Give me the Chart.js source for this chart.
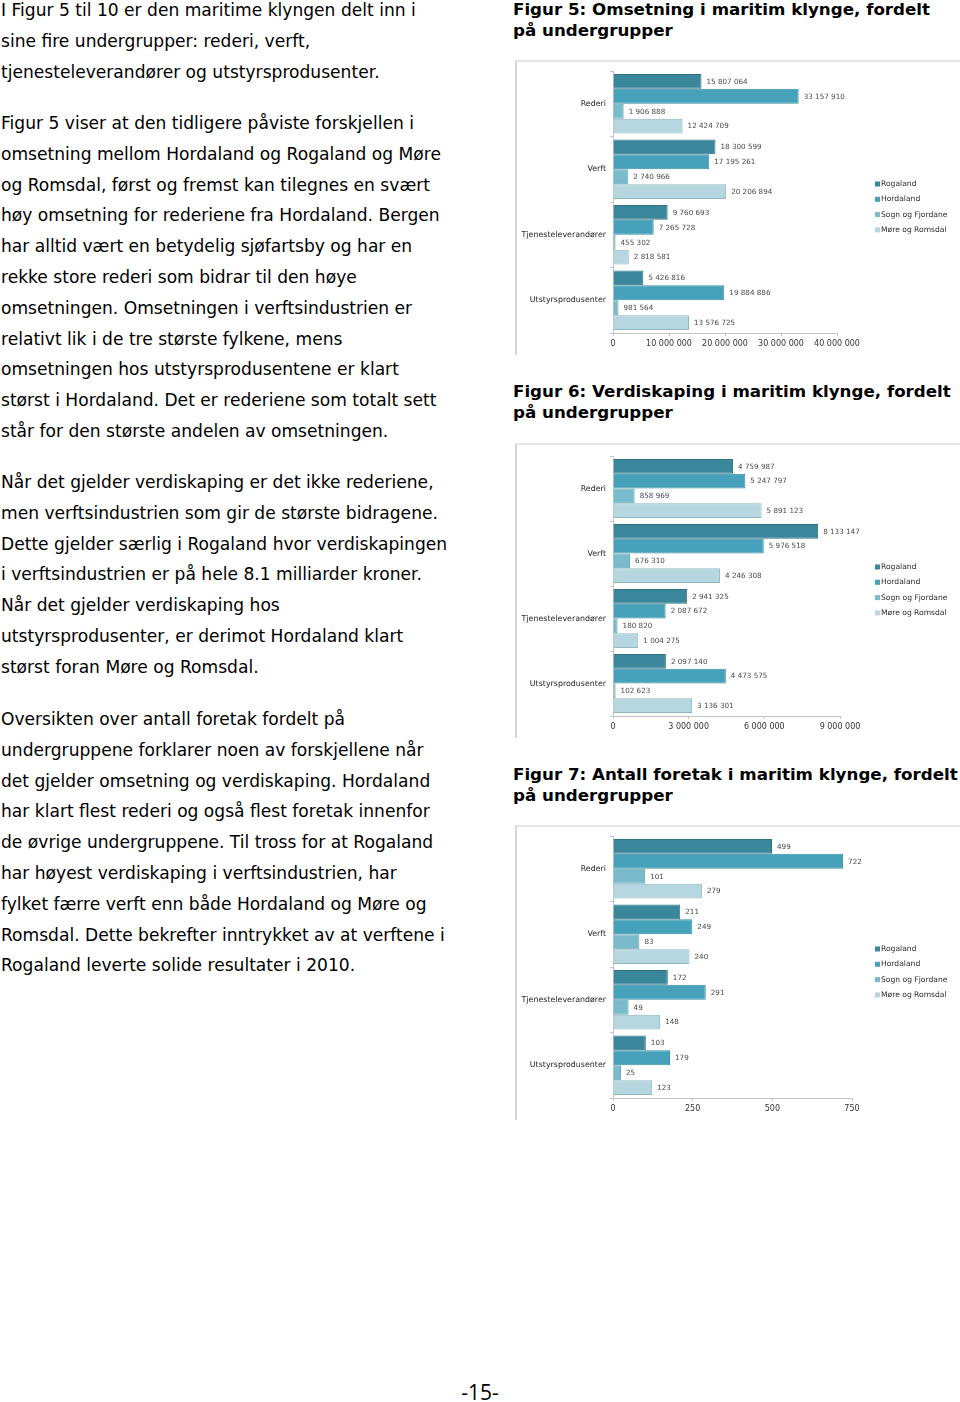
<!DOCTYPE html>
<html lang="no">
  <head>
    <meta charset="UTF-8" />
    <title>Maritim klynge - undergrupper</title>
    <style>
      body {
        margin: 0;
        background: #fff;
      }
      .page {
        position: relative;
        width: 960px;
        height: 1402px;
        overflow: hidden;
        font-family: "DejaVu Sans", Verdana, sans-serif;
        color: #000;
      }
      .para {
        position: absolute;
        left: 1px;
        font-size: 17.1px;
        line-height: 30.8px;
        white-space: nowrap;
      }
      .caption {
        position: absolute;
        left: 513px;
        font-size: 16.7px;
        font-weight: bold;
        line-height: 21px;
        white-space: nowrap;
      }
      .frame {
        position: absolute;
        left: 515px;
        width: 445px;
        height: 293px;
        border-top: 2px solid #e6e6e6;
        border-left: 2px solid #d6d6d6;
      }
      .frame canvas {
        position: absolute;
        left: 0;
        top: 0;
      }
      .pagenr {
        position: absolute;
        left: 0;
        width: 960px;
        top: 1378px;
        text-align: center;
        font-family: "Open Sans", sans-serif;
        font-size: 21px;
      }
    </style>
  </head>
  <body>
    <div class="page">
      <div class="para" style="top: -5px">
        I Figur 5 til 10 er den maritime klyngen delt inn i<br />
        sine fire undergrupper: rederi, verft,<br />
        tjenesteleverandører og utstyrsprodusenter.
      </div>
      <div class="para" style="top: 108px">
        Figur 5 viser at den tidligere påviste forskjellen i<br />
        omsetning mellom Hordaland og Rogaland og Møre<br />
        og Romsdal, først og fremst kan tilegnes en svært<br />
        høy omsetning for rederiene fra Hordaland. Bergen<br />
        har alltid vært en betydelig sjøfartsby og har en<br />
        rekke store rederi som bidrar til den høye<br />
        omsetningen. Omsetningen i verftsindustrien er<br />
        relativt lik i de tre største fylkene, mens<br />
        omsetningen hos utstyrsprodusentene er klart<br />
        størst i Hordaland. Det er rederiene som totalt sett<br />
        står for den største andelen av omsetningen.
      </div>
      <div class="para" style="top: 467px">
        Når det gjelder verdiskaping er det ikke rederiene,<br />
        men verftsindustrien som gir de største bidragene.<br />
        Dette gjelder særlig i Rogaland hvor verdiskapingen<br />
        i verftsindustrien er på hele 8.1 milliarder kroner.<br />
        Når det gjelder verdiskaping hos<br />
        utstyrsprodusenter, er derimot Hordaland klart<br />
        størst foran Møre og Romsdal.
      </div>
      <div class="para" style="top: 704px">
        Oversikten over antall foretak fordelt på<br />
        undergruppene forklarer noen av forskjellene når<br />
        det gjelder omsetning og verdiskaping. Hordaland<br />
        har klart flest rederi og også flest foretak innenfor<br />
        de øvrige undergruppene. Til tross for at Rogaland<br />
        har høyest verdiskaping i verftsindustrien, har<br />
        fylket færre verft enn både Hordaland og Møre og<br />
        Romsdal. Dette bekrefter inntrykket av at verftene i<br />
        Rogaland leverte solide resultater i 2010.
      </div>

      <div class="caption" style="top: -1px">
        Figur 5: Omsetning i maritim klynge, fordelt<br />på undergrupper
      </div>
      <div class="frame" style="top: 60px">
        <canvas id="chartOmsetning" width="443" height="292"></canvas>
      </div>

      <div class="caption" style="top: 381px">
        Figur 6: Verdiskaping i maritim klynge, fordelt<br />på undergrupper
      </div>
      <div class="frame" style="top: 443px">
        <canvas id="chartVerdiskaping" width="443" height="292"></canvas>
      </div>

      <div class="caption" style="top: 764px">
        Figur 7: Antall foretak i maritim klynge, fordelt<br />på undergrupper
      </div>
      <div class="frame" style="top: 825px">
        <canvas id="chartForetak" width="443" height="292"></canvas>
      </div>

      <div class="pagenr">-15-</div>
    </div>

    <script src="https://cdn.jsdelivr.net/npm/chart.js@4.4.0/dist/chart.umd.min.js"></script>
    <script>
      // undergrupper og fylker
      const categories = ["Rederi", "Verft", "Tjenesteleverandører", "Utstyrsprodusenter"];
      const regions = ["Rogaland", "Hordaland", "Sogn og Fjordane", "Møre og Romsdal"];

      // Figur 5: omsetning
      const omsetningRogaland = [15807064, 18300599, 9760693, 5426816];
      const omsetningHordaland = [33157910, 17195261, 7265728, 19884886];
      const omsetningSogn = [1906888, 2740966, 455302, 981564];
      const omsetningMore = [12424709, 20206894, 2818581, 13576725];
      const omsetningTicks = [0, 10000000, 20000000, 30000000, 40000000];

      // Figur 6: verdiskaping
      const verdiRogaland = [4759987, 8133147, 2941325, 2097140];
      const verdiHordaland = [5247797, 5976518, 2087672, 4473575];
      const verdiSogn = [858969, 676310, 180820, 102623];
      const verdiMore = [5891123, 4246308, 1004275, 3136301];
      const verdiTicks = [0, 3000000, 6000000, 9000000];

      // Figur 7: antall foretak
      const foretakRogaland = [499, 211, 172, 103];
      const foretakHordaland = [722, 249, 291, 179];
      const foretakSogn = [101, 83, 49, 25];
      const foretakMore = [279, 240, 148, 123];
      const foretakTicks = [0, 250, 500, 750];

      const fill = ["#3a879b", "#45a2ba", "#79bacb", "#b6d6e0"];
      const edge = ["#2f7486", "#3a8ea4", "#66a7b9", "#8fb6c3"];

      function fmt(v) {
        return String(v).replace(/\B(?=(\d{3})+(?!\d))/g, " ");
      }

      // verdier til høyre for hver stolpe
      const valueLabels = {
        id: "valueLabels",
        afterDatasetsDraw(chart) {
          const ctx = chart.ctx;
          ctx.save();
          ctx.font = "7.2px 'DejaVu Sans'";
          ctx.fillStyle = "#4a4a4a";
          ctx.textBaseline = "middle";
          chart.data.datasets.forEach((ds, i) => {
            chart.getDatasetMeta(i).data.forEach((bar, j) => {
              ctx.fillText(fmt(ds.data[j]), bar.x + 5, bar.y + 0.5);
            });
          });
          ctx.restore();
        },
      };

      // forklaring på høyre side
      const sideLegend = {
        id: "sideLegend",
        afterDraw(chart) {
          const ctx = chart.ctx;
          ctx.save();
          ctx.font = "7.6px 'DejaVu Sans'";
          ctx.textBaseline = "middle";
          chart.data.datasets.forEach((ds, i) => {
            const y = 122 + i * 15.3;
            ctx.fillStyle = ds.backgroundColor;
            ctx.fillRect(358, y - 2.5, 5, 5);
            ctx.fillStyle = "#2a2a2a";
            ctx.fillText(ds.label, 364, y);
          });
          ctx.restore();
        },
      };

      function makeChart(id, series, ticks, padTop, padRight) {
        return new Chart(document.getElementById(id), {
          type: "bar",
          data: {
            labels: categories,
            datasets: series.map((s, i) => ({
              label: regions[i],
              data: s,
              backgroundColor: fill[i],
              borderColor: edge[i],
              borderWidth: 1,
              categoryPercentage: 0.91,
              barPercentage: 1.0,
            })),
          },
          options: {
            indexAxis: "y",
            responsive: false,
            animation: false,
            layout: {
              padding: { top: padTop, right: padRight, bottom: 4, left: 0 },
            },
            plugins: {
              legend: { display: false },
              tooltip: { enabled: false },
            },
            scales: {
              x: {
                min: 0,
                max: ticks[ticks.length - 1],
                afterBuildTicks: (scale) => {
                  scale.ticks = ticks.map((v) => ({ value: v }));
                },
                afterFit: (scale) => {
                  scale.height = 17;
                },
                grid: { drawOnChartArea: false, tickLength: 3, color: "#c4c4c4" },
                border: { color: "#c4c4c4" },
                ticks: {
                  padding: 3,
                  color: "#333",
                  font: { size: 8 },
                  maxRotation: 0,
                  callback: (v) => fmt(v),
                },
              },
              y: {
                afterFit: (scale) => {
                  scale.width = 96;
                },
                grid: { drawOnChartArea: false, tickLength: 3, color: "#c4c4c4" },
                border: { color: "#c4c4c4" },
                ticks: {
                  padding: 4,
                  color: "#1e1e1e",
                  font: { size: 7.9 },
                },
              },
            },
          },
          plugins: [valueLabels, sideLegend],
        });
      }

      Chart.defaults.font.family = "'DejaVu Sans', sans-serif";

      makeChart(
        "chartOmsetning",
        [omsetningRogaland, omsetningHordaland, omsetningSogn, omsetningMore],
        omsetningTicks,
        9,
        123
      );
      makeChart(
        "chartVerdiskaping",
        [verdiRogaland, verdiHordaland, verdiSogn, verdiMore],
        verdiTicks,
        11,
        120
      );
      makeChart(
        "chartForetak",
        [foretakRogaland, foretakHordaland, foretakSogn, foretakMore],
        foretakTicks,
        9,
        108
      );
    </script>
  </body>
</html>
